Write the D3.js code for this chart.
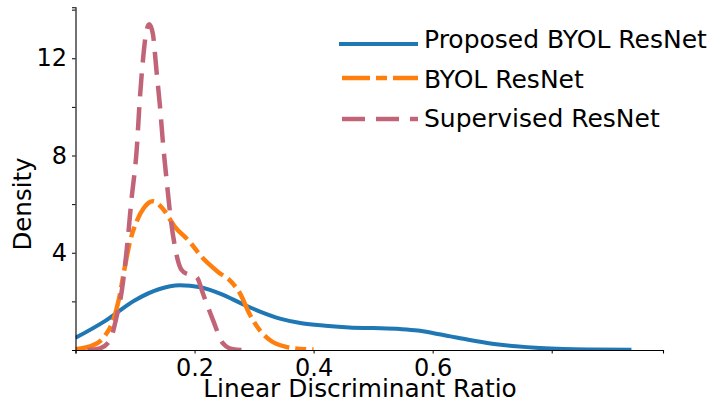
<!DOCTYPE html>
<html>
<head>
<meta charset="utf-8">
<script src="https://cdn.jsdelivr.net/npm/d3@7"></script>
<style>
  html, body { margin: 0; padding: 0; background: #fff; }
  svg { display: block; font-family: "DejaVu Sans", sans-serif; }
</style>
</head>
<body>
<svg id="chart" width="716" height="402"></svg>
<script>
// ---- data ----
const seriesNames = ["Proposed BYOL ResNet", "BYOL ResNet", "Supervised ResNet"];

const proposedX = [0, 0.05, 0.1, 0.14, 0.175, 0.21, 0.245, 0.28, 0.31, 0.345, 0.38, 0.42, 0.46, 0.5, 0.545, 0.575, 0.6, 0.63, 0.66, 0.7, 0.74, 0.78, 0.82, 0.87, 0.934];
const proposedY = [0.5, 1.2, 2.05, 2.5, 2.66, 2.58, 2.3, 1.9, 1.58, 1.28, 1.1, 1.0, 0.93, 0.9, 0.86, 0.8, 0.7, 0.56, 0.42, 0.26, 0.15, 0.08, 0.04, 0.02, 0.01];

const byolX = [0, 0.03, 0.05, 0.063, 0.073, 0.082, 0.092, 0.103, 0.115, 0.13, 0.147, 0.166, 0.19, 0.215, 0.24, 0.262, 0.277, 0.292, 0.31, 0.33, 0.355, 0.38, 0.4];
const byolY = [0.03, 0.2, 0.6, 1.2, 2.1, 3.3, 4.5, 5.3, 5.85, 6.12, 5.8, 5.1, 4.5, 3.75, 3.2, 2.8, 2.3, 1.5, 0.8, 0.35, 0.12, 0.04, 0.02];

const supX = [0.02, 0.041, 0.058, 0.069, 0.078, 0.086, 0.094, 0.103, 0.108, 0.114, 0.119, 0.124, 0.13, 0.136, 0.142, 0.147, 0.153, 0.159, 0.167, 0.178, 0.188, 0.197, 0.205, 0.214, 0.231, 0.248, 0.265, 0.28];
const supY = [0.0, 0.07, 0.41, 1.37, 2.47, 4.11, 6.17, 8.3, 10.3, 12.1, 13.1, 13.4, 13.0, 11.5, 10.0, 8.5, 7.0, 5.6, 4.25, 3.3, 3.12, 3.08, 2.95, 2.33, 1.23, 0.27, 0.03, 0.0];

const xTicks = [0, 0.2, 0.4, 0.6, 0.8];
const xTickLabels = ["", "0.2", "0.4", "0.6", ""];
const yTicks = [0, 2, 4, 6, 8, 10, 12, 14];
const yTickLabels = ["", "", "4", "", "8", "", "12", ""];
const xLabel = "Linear Discriminant Ratio";
const yLabel = "Density";

// ---- layout / style ----
const colors = ["#1f77b4", "#ff7f0e", "#c16478"];
const dashes = [null, "28 6 11 6", "23 11"];
const widths = [4, 4.5, 4.5];

const svg = d3.select("#chart");
const x = d3.scaleLinear().domain([0, 0.987]).range([75.5, 663]);
const y = d3.scaleLinear().domain([0, 14.1]).range([350, 7.2]);

const series = [
  proposedX.map((v, i) => [v, proposedY[i]]),
  byolX.map((v, i) => [v, byolY[i]]),
  supX.map((v, i) => [v, supY[i]])
];

svg.append("defs").append("clipPath").attr("id", "clip")
  .append("rect").attr("x", 75.5).attr("y", 0).attr("width", 590).attr("height", 350);

const line = d3.line().x(d => x(d[0])).y(d => y(d[1])).curve(d3.curveMonotoneX);

const g = svg.append("g").attr("clip-path", "url(#clip)");
series.forEach((s, i) => {
  g.append("path").datum(s)
    .attr("d", line)
    .attr("fill", "none")
    .attr("stroke", colors[i])
    .attr("stroke-width", widths[i])
    .attr("stroke-dasharray", dashes[i])
    .attr("stroke-linejoin", "round");
});

// axes
const xAxis = d3.axisBottom(x).tickValues(xTicks)
  .tickFormat((d, i) => xTickLabels[i]).tickSizeOuter(0).tickSize(3.5).tickPadding(5.5);
const yAxis = d3.axisLeft(y).tickValues(yTicks)
  .tickFormat((d, i) => yTickLabels[i]).tickSizeOuter(0).tickSize(3.5).tickPadding(5);

const gx = svg.append("g").attr("transform", "translate(0,350)").call(xAxis);
const gy = svg.append("g").attr("transform", "translate(75.5,0)").call(yAxis);
[gx, gy].forEach(a => {
  a.selectAll("text").attr("font-family", "DejaVu Sans").attr("font-size", 24).attr("fill", "#000");
  a.selectAll("line").attr("stroke", "#000").attr("stroke-width", 1);
  a.select(".domain").attr("stroke", "#000").attr("stroke-width", 1.1);
});

// axis labels
svg.append("text").attr("x", 360).attr("y", 397)
  .attr("text-anchor", "middle").attr("font-size", 24.8).attr("fill", "#000").text(xLabel);
svg.append("text").attr("transform", "translate(31,204) rotate(-90)")
  .attr("text-anchor", "middle").attr("font-size", 24.5).attr("fill", "#000").text(yLabel);

// legend
const legY = [44, 78, 119];
const legBase = [48, 88, 127];
seriesNames.forEach((name, i) => {
  svg.append("line")
    .attr("x1", i === 0 ? 339 : 342).attr("x2", 418)
    .attr("y1", legY[i]).attr("y2", legY[i])
    .attr("stroke", colors[i]).attr("stroke-width", widths[i])
    .attr("stroke-dasharray", dashes[i]);
  svg.append("text").attr("x", 424).attr("y", legBase[i])
    .attr("font-size", 25).attr("fill", "#000").text(name);
});
</script>
</body>
</html>
